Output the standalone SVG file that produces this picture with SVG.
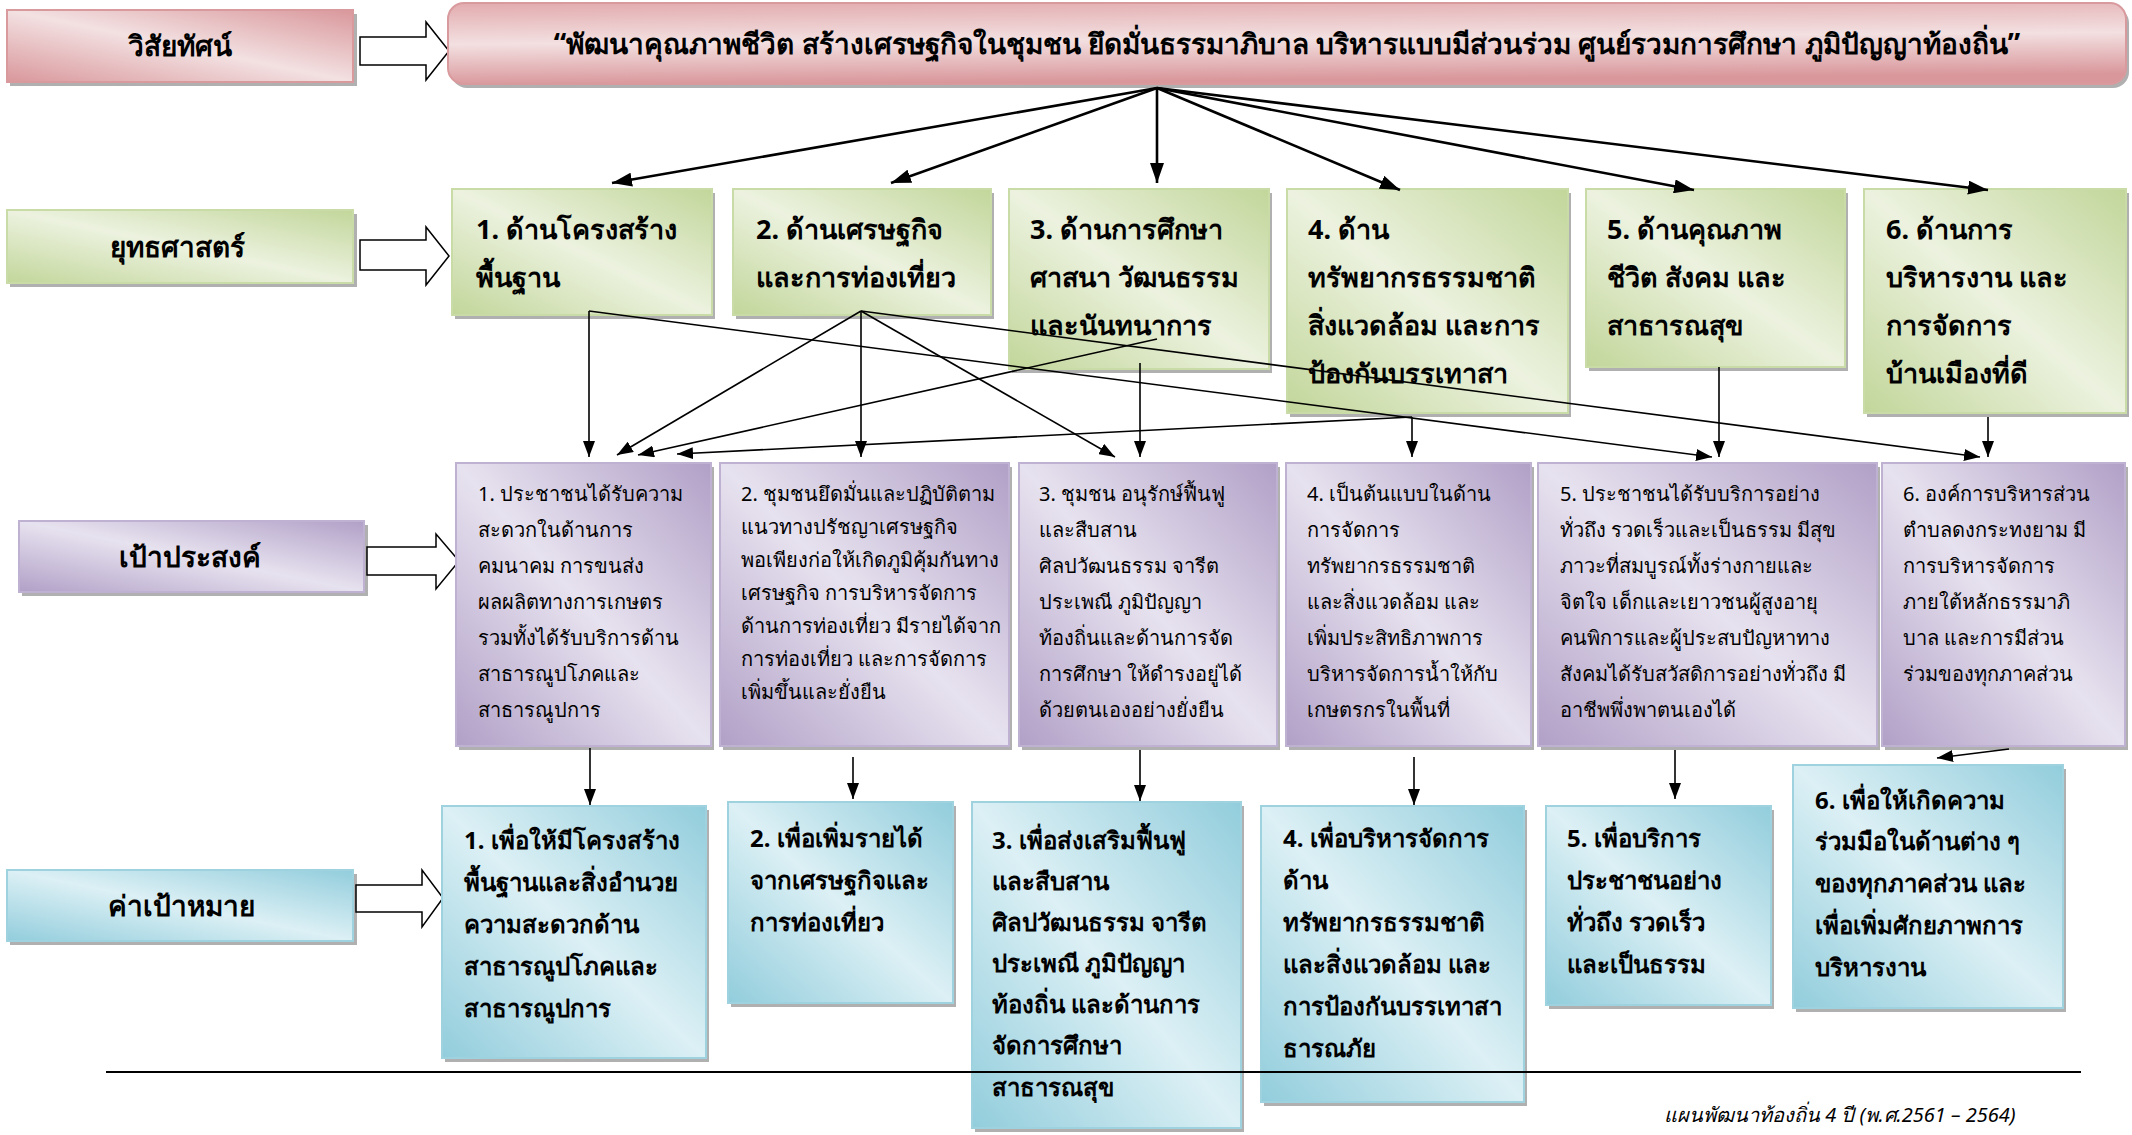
<svg xmlns="http://www.w3.org/2000/svg" width="2132" height="1135" viewBox="0 0 2132 1135">
<defs>
<linearGradient id="gPink" x1="1" y1="0" x2="0" y2="1"><stop offset="0" stop-color="#d9979b"/><stop offset="0.5" stop-color="#f3e1e2"/><stop offset="1" stop-color="#d9979b"/></linearGradient>
<linearGradient id="gPinkV" x1="0" y1="0" x2="0.15" y2="1"><stop offset="0" stop-color="#e2abae"/><stop offset="0.5" stop-color="#f3e0e1"/><stop offset="1" stop-color="#d9979b"/></linearGradient>
<linearGradient id="gGreen" x1="1" y1="0" x2="0" y2="1"><stop offset="0" stop-color="#c2d69a"/><stop offset="0.5" stop-color="#ecf2df"/><stop offset="1" stop-color="#c2d69a"/></linearGradient>
<linearGradient id="gPurple" x1="1" y1="0" x2="0" y2="1"><stop offset="0" stop-color="#b1a0c7"/><stop offset="0.5" stop-color="#e7e2ef"/><stop offset="1" stop-color="#b1a0c7"/></linearGradient>
<linearGradient id="gBlue" x1="1" y1="0" x2="0" y2="1"><stop offset="0" stop-color="#92cddc"/><stop offset="0.5" stop-color="#dcf0f5"/><stop offset="1" stop-color="#92cddc"/></linearGradient>
<marker id="ah" viewBox="0 0 16 12" refX="16" refY="6" markerWidth="16" markerHeight="12" markerUnits="userSpaceOnUse" orient="auto"><path d="M0,0 L16,6 L0,12 z" fill="#000"/></marker>
<marker id="ahL" viewBox="0 0 20 14" refX="20" refY="7" markerWidth="20" markerHeight="14" markerUnits="userSpaceOnUse" orient="auto"><path d="M0,0 L20,7 L0,14 z" fill="#000"/></marker>
</defs>
<style>
text{font-family:"Noto Sans","DejaVu Sans",sans-serif;fill:#000}
.lbl{font-size:28px;font-weight:bold;text-anchor:middle}
.vis{font-size:28px;font-weight:bold;text-anchor:middle}
.g{font-size:27px;font-weight:bold}
.p{font-size:20px}
.b{font-size:24px;font-weight:bold}
.ft{font-size:20px;font-style:italic}
.sh{fill:#9c9c9c;opacity:0.8}
.boxP{fill:url(#gPink);stroke:#d99a9e;stroke-width:2}
.boxG{fill:url(#gGreen);stroke:#c9dba6;stroke-width:2}
.boxU{fill:url(#gPurple);stroke:#bfb1d2;stroke-width:2}
.boxB{fill:url(#gBlue);stroke:#9ed2df;stroke-width:2}
.ha{fill:#fff;stroke:#000;stroke-width:1.5}
.c{stroke:#000;stroke-width:1.6;fill:none;marker-end:url(#ah)}
.cT{stroke:#000;stroke-width:2.6;fill:none;marker-end:url(#ahL)}
</style>
<rect width="2132" height="1135" fill="#fff"/>

<g id="label-vision">
<rect class="sh" x="10" y="14" width="347" height="72"/>
<rect class="boxP" x="7" y="10" width="346" height="72"/>
<text class="lbl" x="180" y="56">วิสัยทัศน์</text>
</g>
<g id="label-strategy">
<rect class="sh" x="10" y="214" width="347" height="73"/>
<rect class="boxG" x="7" y="210" width="346" height="73"/>
<text class="lbl" x="177" y="257">ยุทธศาสตร์</text>
</g>
<g id="label-goal">
<rect class="sh" x="22" y="525" width="346" height="71"/>
<rect class="boxU" x="19" y="521" width="345" height="71"/>
<text class="lbl" x="190" y="567">เป้าประสงค์</text>
</g>
<g id="label-target">
<rect class="sh" x="10" y="874" width="347" height="71"/>
<rect class="boxB" x="7" y="870" width="346" height="71"/>
<text class="lbl" x="181" y="916">ค่าเป้าหมาย</text>
</g>

<g id="block-arrows">
<path class="ha" d="M360,37 L426,37 L426,22 L449,51 L426,80 L426,65 L360,65 z"/>
<path class="ha" d="M360,240 L426,240 L426,227 L449,256 L426,285 L426,270 L360,270 z"/>
<path class="ha" d="M367,547 L436,547 L436,534 L459,561 L436,589 L436,575 L367,575 z"/>
<path class="ha" d="M356,885 L422,885 L422,870 L443,898 L422,927 L422,912 L356,912 z"/>
</g>

<g id="vision">
<rect class="sh" x="451" y="7" width="1678" height="81" rx="16"/>
<rect x="448" y="3" width="1678" height="81" rx="16" fill="url(#gPinkV)" stroke="#d99a9e" stroke-width="2"/>
<text class="vis" x="1287" y="54">“พัฒนาคุณภาพชีวิต สร้างเศรษฐกิจในชุมชน ยึดมั่นธรรมาภิบาล บริหารแบบมีส่วนร่วม ศูนย์รวมการศึกษา ภูมิปัญญาท้องถิ่น”</text>
</g>

<g id="s1"><rect class="sh" x="455" y="193" width="260" height="126"/><rect class="boxG" x="452" y="189" width="260" height="126"/>
<text class="g" x="476" y="239">1. ด้านโครงสร้าง</text><text class="g" x="476" y="287">พื้นฐาน</text></g>
<g id="s2"><rect class="sh" x="736" y="193" width="258" height="126"/><rect class="boxG" x="733" y="189" width="258" height="126"/>
<text class="g" x="756" y="239">2. ด้านเศรษฐกิจ</text><text class="g" x="756" y="287">และการท่องเที่ยว</text></g>
<g id="s3"><rect class="sh" x="1012" y="193" width="260" height="180"/><rect class="boxG" x="1009" y="189" width="260" height="180"/>
<text class="g" x="1030" y="239">3. ด้านการศึกษา</text><text class="g" x="1030" y="287">ศาสนา วัฒนธรรม</text><text class="g" x="1030" y="335">และนันทนาการ</text></g>
<g id="s4"><rect class="sh" x="1290" y="193" width="281" height="224"/><rect class="boxG" x="1287" y="189" width="281" height="224"/>
<text class="g" x="1308" y="239">4. ด้าน</text><text class="g" x="1308" y="287">ทรัพยากรธรรมชาติ</text><text class="g" x="1308" y="335">สิ่งแวดล้อม และการ</text><text class="g" x="1308" y="383">ป้องกันบรรเทาสา</text></g>
<g id="s5"><rect class="sh" x="1589" y="193" width="259" height="178"/><rect class="boxG" x="1586" y="189" width="259" height="178"/>
<text class="g" x="1607" y="239">5. ด้านคุณภาพ</text><text class="g" x="1607" y="287">ชีวิต สังคม และ</text><text class="g" x="1607" y="335">สาธารณสุข</text></g>
<g id="s6"><rect class="sh" x="1867" y="193" width="262" height="224"/><rect class="boxG" x="1864" y="189" width="262" height="224"/>
<text class="g" x="1886" y="239">6. ด้านการ</text><text class="g" x="1886" y="287">บริหารงาน และ</text><text class="g" x="1886" y="335">การจัดการ</text><text class="g" x="1886" y="383">บ้านเมืองที่ดี</text></g>

<g id="p1"><rect class="sh" x="459" y="467" width="255" height="283"/><rect class="boxU" x="456" y="463" width="255" height="283"/>
<text class="p" x="478" y="501">1. ประชาชนได้รับความ</text><text class="p" x="478" y="537">สะดวกในด้านการ</text><text class="p" x="478" y="573">คมนาคม การขนส่ง</text><text class="p" x="478" y="609">ผลผลิตทางการเกษตร</text><text class="p" x="478" y="645">รวมทั้งได้รับบริการด้าน</text><text class="p" x="478" y="681">สาธารณูปโภคและ</text><text class="p" x="478" y="717">สาธารณูปการ</text></g>
<g id="p2"><rect class="sh" x="723" y="467" width="289" height="283"/><rect class="boxU" x="720" y="463" width="289" height="283"/>
<text class="p" x="741" y="501">2. ชุมชนยึดมั่นและปฏิบัติตาม</text><text class="p" x="741" y="534">แนวทางปรัชญาเศรษฐกิจ</text><text class="p" x="741" y="567">พอเพียงก่อให้เกิดภูมิคุ้มกันทาง</text><text class="p" x="741" y="600">เศรษฐกิจ การบริหารจัดการ</text><text class="p" x="741" y="633">ด้านการท่องเที่ยว มีรายได้จาก</text><text class="p" x="741" y="666">การท่องเที่ยว และการจัดการ</text><text class="p" x="741" y="699">เพิ่มขึ้นและยั่งยืน</text></g>
<g id="p3"><rect class="sh" x="1022" y="467" width="258" height="283"/><rect class="boxU" x="1019" y="463" width="258" height="283"/>
<text class="p" x="1039" y="501">3. ชุมชน อนุรักษ์ฟื้นฟู</text><text class="p" x="1039" y="537">และสืบสาน</text><text class="p" x="1039" y="573">ศิลปวัฒนธรรม จารีต</text><text class="p" x="1039" y="609">ประเพณี ภูมิปัญญา</text><text class="p" x="1039" y="645">ท้องถิ่นและด้านการจัด</text><text class="p" x="1039" y="681">การศึกษา ให้ดำรงอยู่ได้</text><text class="p" x="1039" y="717">ด้วยตนเองอย่างยั่งยืน</text></g>
<g id="p4"><rect class="sh" x="1289" y="467" width="245" height="283"/><rect class="boxU" x="1286" y="463" width="245" height="283"/>
<text class="p" x="1307" y="501">4. เป็นต้นแบบในด้าน</text><text class="p" x="1307" y="537">การจัดการ</text><text class="p" x="1307" y="573">ทรัพยากรธรรมชาติ</text><text class="p" x="1307" y="609">และสิ่งแวดล้อม และ</text><text class="p" x="1307" y="645">เพิ่มประสิทธิภาพการ</text><text class="p" x="1307" y="681">บริหารจัดการน้ำให้กับ</text><text class="p" x="1307" y="717">เกษตรกรในพื้นที่</text></g>
<g id="p5"><rect class="sh" x="1541" y="467" width="339" height="283"/><rect class="boxU" x="1538" y="463" width="339" height="283"/>
<text class="p" x="1560" y="501">5. ประชาชนได้รับบริการอย่าง</text><text class="p" x="1560" y="537">ทั่วถึง รวดเร็วและเป็นธรรม มีสุข</text><text class="p" x="1560" y="573">ภาวะที่สมบูรณ์ทั้งร่างกายและ</text><text class="p" x="1560" y="609">จิตใจ เด็กและเยาวชนผู้สูงอายุ</text><text class="p" x="1560" y="645">คนพิการและผู้ประสบปัญหาทาง</text><text class="p" x="1560" y="681">สังคมได้รับสวัสดิการอย่างทั่วถึง มี</text><text class="p" x="1560" y="717">อาชีพพึ่งพาตนเองได้</text></g>
<g id="p6"><rect class="sh" x="1885" y="467" width="243" height="283"/><rect class="boxU" x="1882" y="463" width="243" height="283"/>
<text class="p" x="1903" y="501">6. องค์การบริหารส่วน</text><text class="p" x="1903" y="537">ตำบลดงกระทงยาม มี</text><text class="p" x="1903" y="573">การบริหารจัดการ</text><text class="p" x="1903" y="609">ภายใต้หลักธรรมาภิ</text><text class="p" x="1903" y="645">บาล และการมีส่วน</text><text class="p" x="1903" y="681">ร่วมของทุกภาคส่วน</text></g>

<g id="t1"><rect class="sh" x="445" y="810" width="264" height="252"/><rect class="boxB" x="442" y="806" width="264" height="252"/>
<text class="b" x="464" y="849">1. เพื่อให้มีโครงสร้าง</text><text class="b" x="464" y="891">พื้นฐานและสิ่งอำนวย</text><text class="b" x="464" y="933">ความสะดวกด้าน</text><text class="b" x="464" y="975">สาธารณูปโภคและ</text><text class="b" x="464" y="1017">สาธารณูปการ</text></g>
<g id="t2"><rect class="sh" x="731" y="806" width="225" height="201"/><rect class="boxB" x="728" y="802" width="225" height="201"/>
<text class="b" x="750" y="847">2. เพื่อเพิ่มรายได้</text><text class="b" x="750" y="889">จากเศรษฐกิจและ</text><text class="b" x="750" y="931">การท่องเที่ยว</text></g>
<g id="t3"><rect class="sh" x="975" y="806" width="269" height="326"/><rect class="boxB" x="972" y="802" width="269" height="326"/>
<text class="b" x="992" y="849">3. เพื่อส่งเสริมฟื้นฟู</text><text class="b" x="992" y="890">และสืบสาน</text><text class="b" x="992" y="931">ศิลปวัฒนธรรม จารีต</text><text class="b" x="992" y="972">ประเพณี ภูมิปัญญา</text><text class="b" x="992" y="1013">ท้องถิ่น และด้านการ</text><text class="b" x="992" y="1054">จัดการศึกษา</text><text class="b" x="992" y="1096">สาธารณสุข</text></g>
<g id="t4"><rect class="sh" x="1264" y="810" width="263" height="296"/><rect class="boxB" x="1261" y="806" width="263" height="296"/>
<text class="b" x="1283" y="847">4. เพื่อบริหารจัดการ</text><text class="b" x="1283" y="889">ด้าน</text><text class="b" x="1283" y="931">ทรัพยากรธรรมชาติ</text><text class="b" x="1283" y="973">และสิ่งแวดล้อม และ</text><text class="b" x="1283" y="1015">การป้องกันบรรเทาสา</text><text class="b" x="1283" y="1057">ธารณภัย</text></g>
<g id="t5"><rect class="sh" x="1549" y="810" width="225" height="199"/><rect class="boxB" x="1546" y="806" width="225" height="199"/>
<text class="b" x="1567" y="847">5. เพื่อบริการ</text><text class="b" x="1567" y="889">ประชาชนอย่าง</text><text class="b" x="1567" y="931">ทั่วถึง รวดเร็ว</text><text class="b" x="1567" y="973">และเป็นธรรม</text></g>
<g id="t6"><rect class="sh" x="1796" y="769" width="270" height="243"/><rect class="boxB" x="1793" y="765" width="270" height="243"/>
<text class="b" x="1815" y="809">6. เพื่อให้เกิดความ</text><text class="b" x="1815" y="850">ร่วมมือในด้านต่าง ๆ</text><text class="b" x="1815" y="892">ของทุกภาคส่วน และ</text><text class="b" x="1815" y="934">เพื่อเพิ่มศักยภาพการ</text><text class="b" x="1815" y="976">บริหารงาน</text></g>

<g id="connectors">
<line class="cT" x1="1157" y1="88" x2="612" y2="183"/>
<line class="cT" x1="1157" y1="88" x2="891" y2="183"/>
<line class="cT" x1="1157" y1="88" x2="1157" y2="183"/>
<line class="cT" x1="1157" y1="88" x2="1400" y2="190"/>
<line class="cT" x1="1157" y1="88" x2="1694" y2="190"/>
<line class="cT" x1="1157" y1="88" x2="1988" y2="190"/>

<line class="c" x1="589" y1="311" x2="589" y2="457"/>
<line class="c" x1="589" y1="311" x2="1712" y2="457"/>
<line class="c" x1="861" y1="311" x2="617" y2="455"/>
<line class="c" x1="861" y1="311" x2="861" y2="457"/>
<line class="c" x1="861" y1="311" x2="1115" y2="457"/>
<line class="c" x1="861" y1="311" x2="1980" y2="457"/>
<line class="c" x1="1157" y1="339" x2="638" y2="455"/>
<line class="c" x1="1140" y1="363" x2="1140" y2="457"/>
<line class="c" x1="1412" y1="417" x2="677" y2="454"/>
<line class="c" x1="1412" y1="417" x2="1412" y2="457"/>
<line class="c" x1="1719" y1="367" x2="1719" y2="457"/>
<line class="c" x1="1988" y1="417" x2="1988" y2="457"/>

<line class="c" x1="590" y1="748" x2="590" y2="805"/>
<line class="c" x1="853" y1="757" x2="853" y2="799"/>
<line class="c" x1="1140" y1="750" x2="1140" y2="801"/>
<line class="c" x1="1414" y1="757" x2="1414" y2="805"/>
<line class="c" x1="1675" y1="750" x2="1675" y2="799"/>
<line class="c" x1="2009" y1="749" x2="1937" y2="758"/>
</g>

<line x1="106" y1="1072" x2="2081" y2="1072" stroke="#000" stroke-width="2"/>
<text class="ft" x="1664" y="1122">แผนพัฒนาท้องถิ่น 4 ปี (พ.ศ.2561 – 2564)</text>
</svg>
